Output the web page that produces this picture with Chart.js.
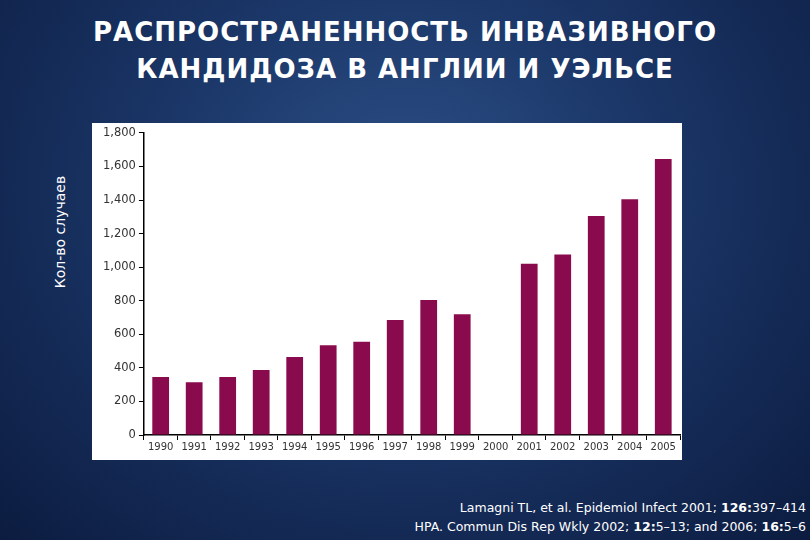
<!DOCTYPE html>
<html><head><meta charset="utf-8">
<script src="https://cdn.jsdelivr.net/npm/chart.js@4"></script>
<style>
html,body{margin:0;padding:0;}
body{width:810px;height:540px;overflow:hidden;position:relative;font-family:"DejaVu Sans",sans-serif;
background:radial-gradient(ellipse at 50% 35%,#2c4f86 0%,#1a3566 45%,#0c1c40 100%);}
#title{position:absolute;left:0;top:14px;width:810px;text-align:center;color:#fff;font-weight:bold;font-size:26px;line-height:37px;letter-spacing:1px;}
#panel{position:absolute;left:92px;top:123px;width:590px;height:337px;background:#fff;}
#ylab{position:absolute;left:60px;top:232px;color:#fff;font-size:14px;transform:translate(-50%,-50%) rotate(-90deg);white-space:nowrap;}
#cite{position:absolute;right:4px;top:498px;color:#fff;font-size:12.5px;line-height:19px;text-align:right;}
</style></head><body>
<div id="title">РАСПРОСТРАНЕННОСТЬ ИНВАЗИВНОГО<br>КАНДИДОЗА В АНГЛИИ И УЭЛЬСЕ</div>
<div id="ylab">Кол-во случаев</div>
<div id="panel"><canvas id="c" width="590" height="337"></canvas></div>
<div id="cite">Lamagni TL, et al. Epidemiol Infect 2001; <b>126:</b>397–414<br>HPA. Commun Dis Rep Wkly 2002; <b>12:</b>5–13; and 2006; <b>16:</b>5–6</div>
<script>
const years=["1990","1991","1992","1993","1994","1995","1996","1997","1998","1999","2000","2001","2002","2003","2004","2005"];
const cases=[345,315,345,388,465,535,555,685,805,720,null,1020,1075,1305,1405,1645];
const yTicks=[0,200,400,600,800,1000,1200,1400,1600,1800];
new Chart(document.getElementById('c'),{type:'bar',
data:{labels:years,datasets:[{data:cases,backgroundColor:'#8a0a4e',barPercentage:0.5,categoryPercentage:1}]},
options:{responsive:false,animation:false,
layout:{padding:{left:8,right:2,top:6,bottom:6}},
plugins:{legend:{display:false},tooltip:{enabled:false}},
scales:{
x:{grid:{display:true,drawOnChartArea:false,color:'#000',tickLength:5,offset:true},border:{color:'#000',width:1.5},
ticks:{color:'#333',font:{family:'DejaVu Sans',size:10},maxRotation:0,autoSkip:false,padding:1}},
y:{min:0,max:1800,afterBuildTicks:a=>{a.ticks=yTicks.map(v=>({value:v}));},
grid:{display:true,drawOnChartArea:false,color:'#000',tickLength:5},border:{color:'#000',width:1.5},
ticks:{color:'#333',font:{family:'DejaVu Sans',size:11.5},padding:3}}}}});
</script></body></html>
